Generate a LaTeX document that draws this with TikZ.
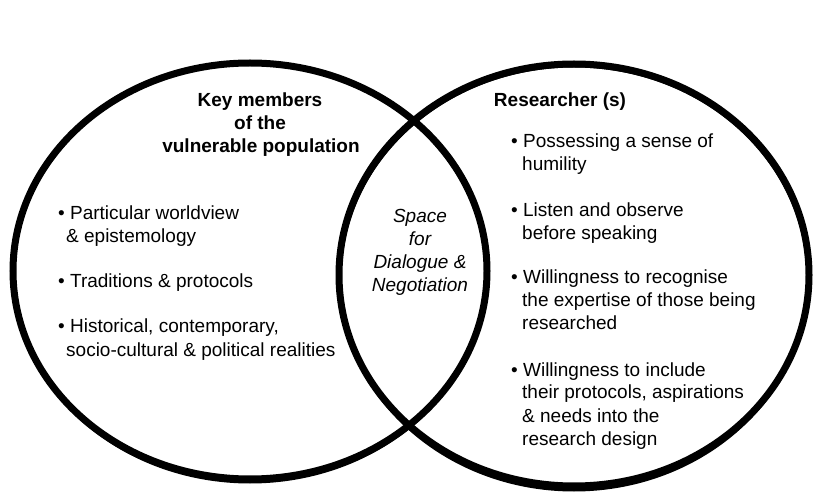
\documentclass[tikz,border=0pt]{standalone}
\usepackage{fontspec}
\setmainfont{Liberation Sans}
\begin{document}
\begin{tikzpicture}[x=1pt,y=-1pt,
  ring/.style={line width=7pt,black},
  txt/.style={anchor=base west,inner sep=0pt,font=\fontsize{19}{23}\selectfont},
  head/.style={anchor=base,inner sep=0pt,font=\fontsize{19}{23}\selectfont\bfseries},
  mid/.style={anchor=base,inner sep=0pt,font=\fontsize{19}{23}\selectfont\itshape}]
\useasboundingbox (0,0) rectangle (820,497);
\fill[white] (0,0) rectangle (820,497);
\draw[ring] (250,271) ellipse [x radius=237,y radius=208];
\draw[ring] (574,275) ellipse [x radius=235,y radius=211];
\draw[line width=3pt] (250,273) ellipse [x radius=236,y radius=209];
\draw[line width=3pt] (574,278) ellipse [x radius=234,y radius=212];
% left
\node[head] (h1) at (260,107) {Key members};
\node[head] (h2) at (260,130) {of the};
\node[head] (h3) at (261,153) {vulnerable population};
\node[txt] (l1) at (58,220) {\textbullet\ Particular worldview};
\node[txt] (l1b) at (66,243) {\& epistemology};
\node[txt] (l2) at (58,288) {\textbullet\ Traditions \& protocols};
\node[txt] (l3) at (58,333) {\textbullet\ Historical, contemporary,};
\node[txt] (l3b) at (66,356) {socio-cultural \& political realities};
% middle
\node[mid] (m1) at (420,223) {Space};
\node[mid] (m2) at (420,246) {for};
\node[mid] (m3) at (420,269) {Dialogue \&};
\node[mid] (m4) at (420,292) {Negotiation};
% right
\node[head] (r0) at (560,107) {Researcher (s)};
\node[txt] (r1) at (511,148) {\textbullet\ Possessing a sense of};
\node[txt] (r1b) at (522,171) {humility};
\node[txt] (r2) at (511,217) {\textbullet\ Listen and observe};
\node[txt] (r2b) at (522,240) {before speaking};
\node[txt] (r3) at (511,284) {\textbullet\ Willingness to recognise};
\node[txt] (r3b) at (522,307) {the expertise of those being};
\node[txt] (r3c) at (522,330) {researched};
\node[txt] (r4) at (511,376) {\textbullet\ Willingness to include};
\node[txt] (r4b) at (522,399) {their protocols, aspirations};
\node[txt] (r4c) at (522,422) {\& needs into the};
\node[txt] (r4d) at (522,445) {research design};
\end{tikzpicture}
\end{document}
